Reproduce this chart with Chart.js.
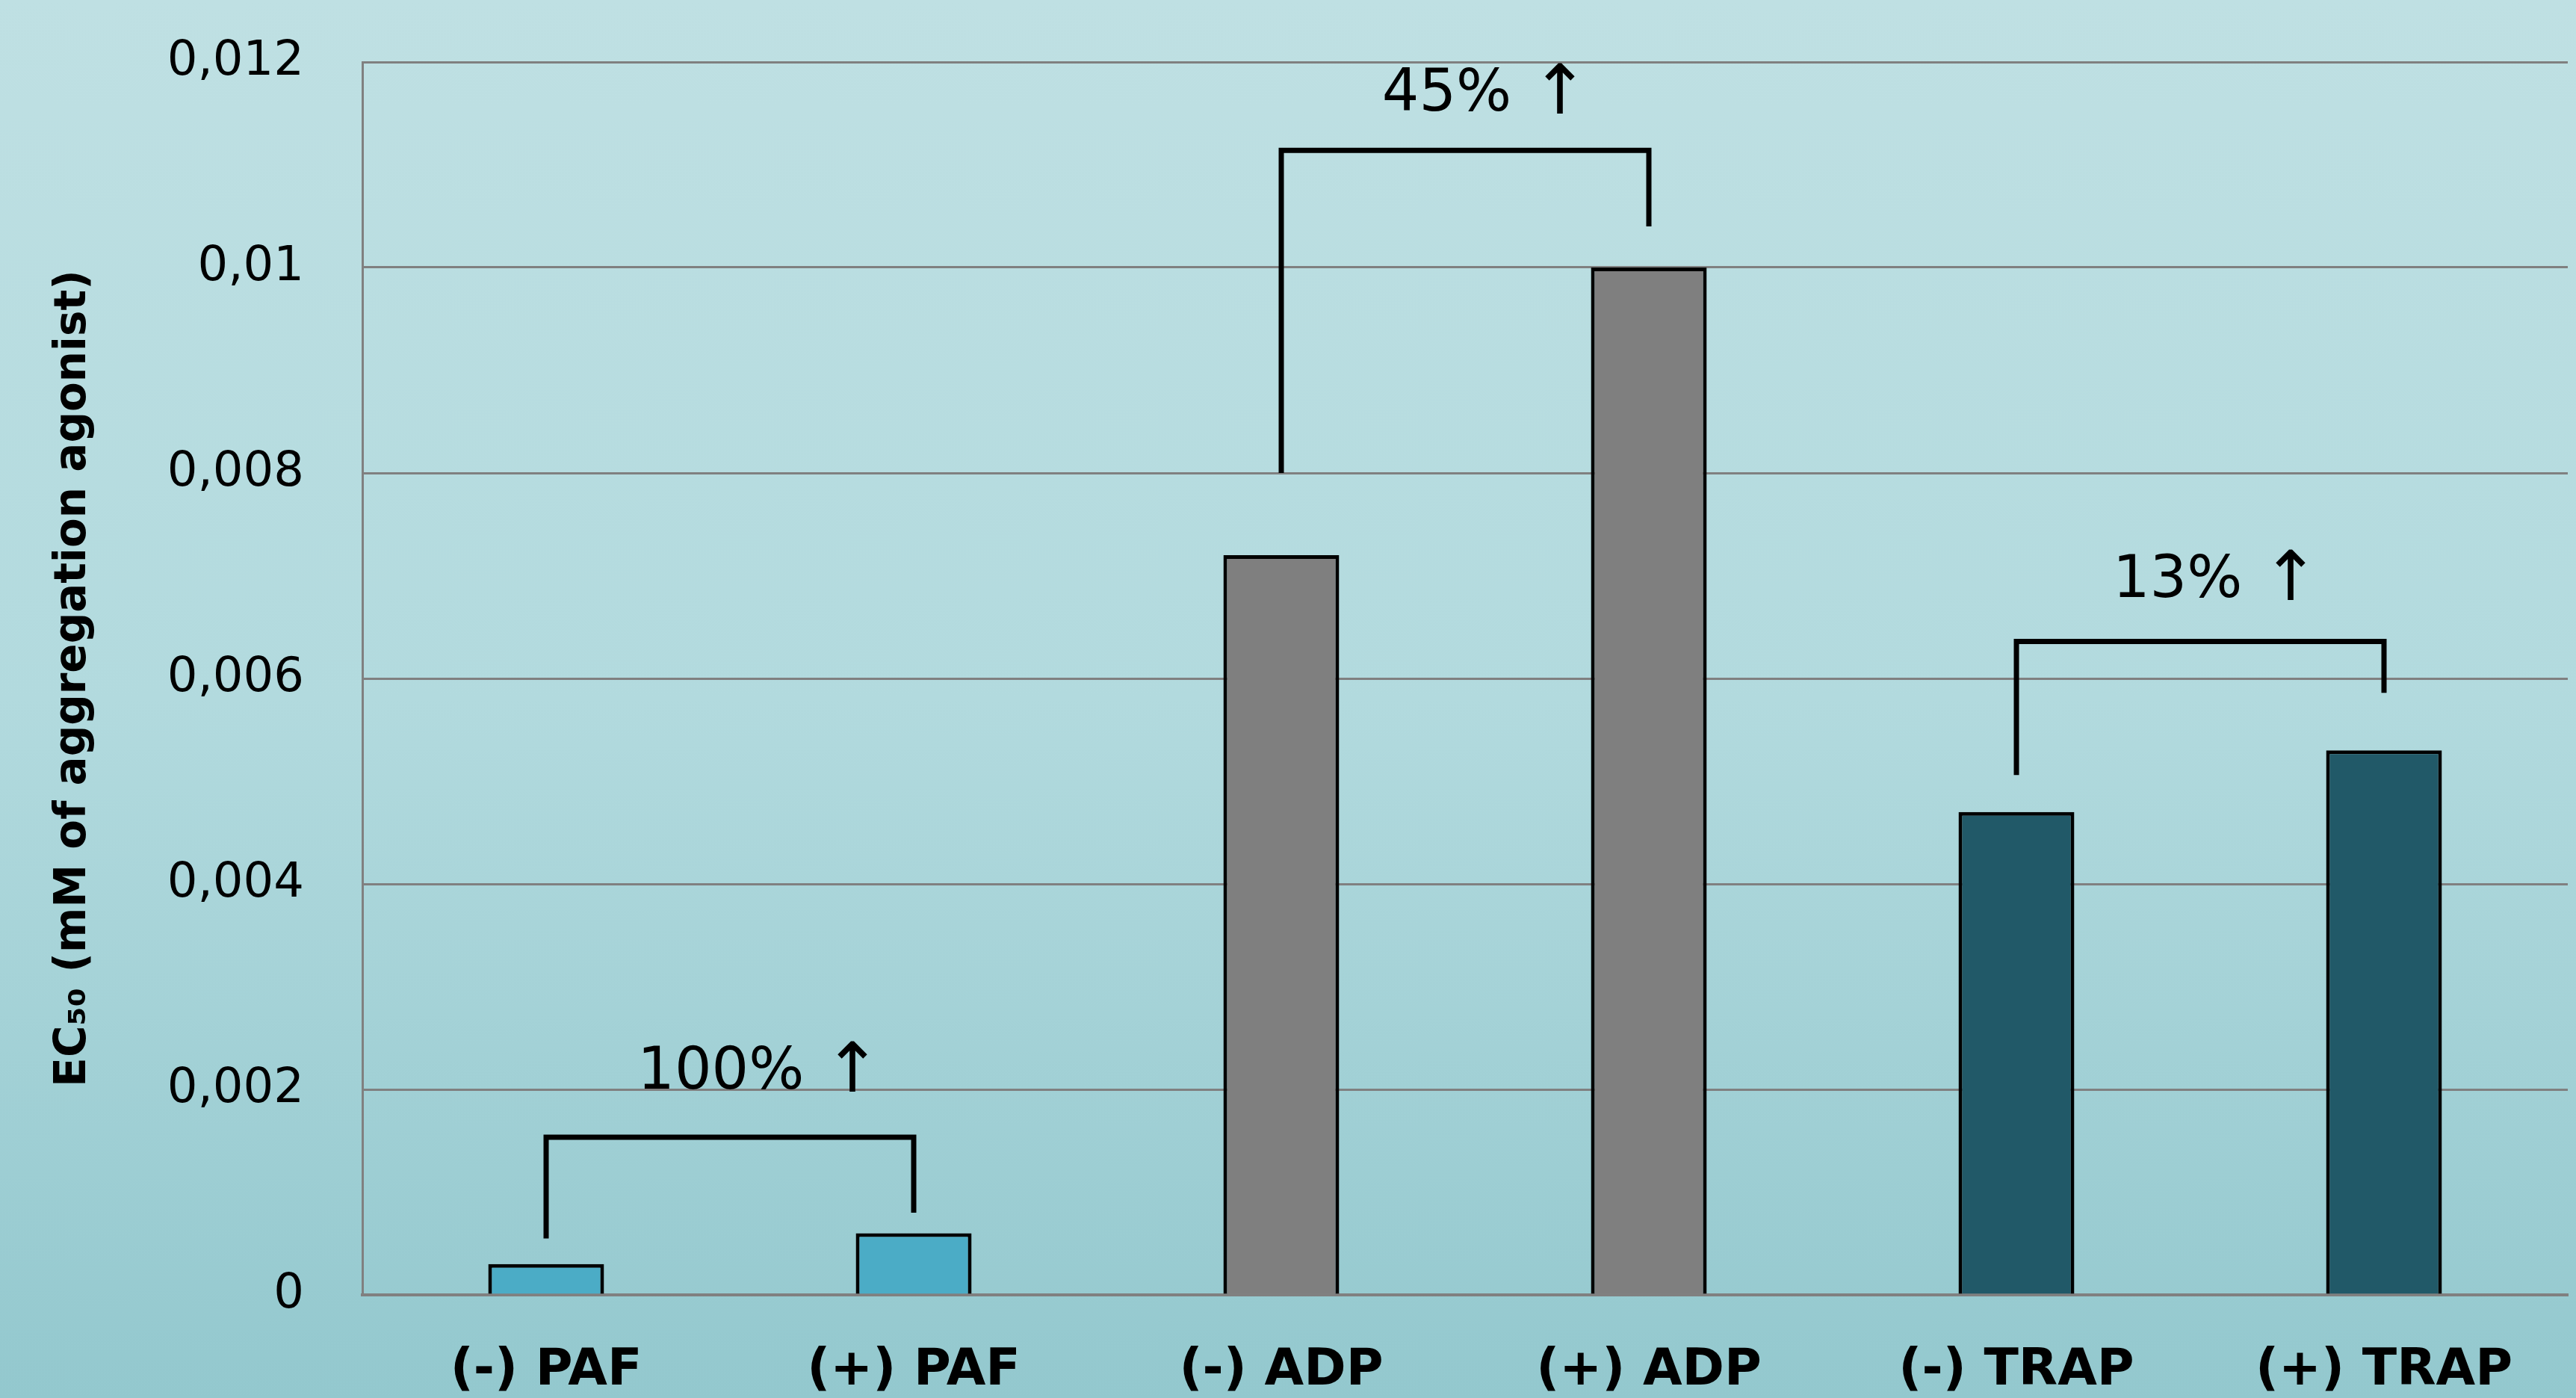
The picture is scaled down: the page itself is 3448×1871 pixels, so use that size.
<!DOCTYPE html>
<html>
<head>
<meta charset="utf-8">
<script src="https://cdn.jsdelivr.net/npm/chart.js@4/dist/chart.umd.min.js"></script>
<style>
  html, body { margin: 0; padding: 0; }
  body { width: 3448px; height: 1871px; background: linear-gradient(to bottom, #BFE0E3 0%, #B2DADE 50%, #93C8CE 100%); overflow: hidden; }
  #wrap { position: absolute; left: 0; top: 0; width: 3448px; height: 1871px; }
</style>
</head>
<body>
<div id="wrap"><canvas id="c" width="3448" height="1871"></canvas></div>
<script>
// ---- data ----
const categories = ['(-) PAF', '(+) PAF', '(-) ADP', '(+) ADP', '(-) TRAP', '(+) TRAP'];
const ec50Values = [0.0003, 0.0006, 0.0072, 0.0100, 0.0047, 0.0053];
const barColors = ['#4BACC6', '#4BACC6', '#7F7F7F', '#7F7F7F', '#215968', '#215968'];
const yTicks = [0, 0.002, 0.004, 0.006, 0.008, 0.010, 0.012];
const yTitle = 'EC\u2085\u2080 (mM of aggregation agonist)';
const changeLabels = ['100%', '45%', '13%'];
const changeArrow = '\u2191';
const bracketPairs = [[0, 1], [2, 3], [4, 5]];
// bracket geometry in data units: [top, left end, right end]
const bracketLevels = [[0.001535, 0.00055, 0.0008], [0.01114, 0.0080, 0.0104], [0.00636, 0.00506, 0.00586]];
// label anchors in data units: [category position of label centre, baseline value]
const labelAnchors = [[0.58, 0.00201], [2.555, 0.01153], [4.543, 0.00679]];

const bracketPlugin = {
  id: 'brackets',
  afterDatasetsDraw(chart) {
    const ctx = chart.ctx;
    const xs = chart.scales.x, ys = chart.scales.y;
    ctx.save();
    ctx.strokeStyle = '#000';
    ctx.lineWidth = 7;
    ctx.lineJoin = 'miter';
    ctx.lineCap = 'butt';
    bracketPairs.forEach((p, i) => {
      const xl = xs.getPixelForValue(p[0]);
      const xr = xs.getPixelForValue(p[1]);
      const [top, le, re] = bracketLevels[i];
      ctx.beginPath();
      ctx.moveTo(xl, ys.getPixelForValue(le));
      ctx.lineTo(xl, ys.getPixelForValue(top));
      ctx.lineTo(xr, ys.getPixelForValue(top));
      ctx.lineTo(xr, ys.getPixelForValue(re));
      ctx.stroke();
    });
    ctx.fillStyle = '#000';
    ctx.textBaseline = 'alphabetic';
    ctx.textAlign = 'left';
    const textFont = '78px "DejaVu Sans"';
    const arrowFont = '92px "DejaVu Sans"';
    changeLabels.forEach((t, i) => {
      const [cx, by] = labelAnchors[i];
      ctx.font = textFont;
      const tw = ctx.measureText(t).width;
      const gap = 26;
      ctx.font = arrowFont;
      const aw = ctx.measureText(changeArrow).width;
      const total = tw + gap + aw;
      const x0 = xs.getPixelForValue(cx) - total / 2;
      const y0 = ys.getPixelForValue(by);
      ctx.font = textFont;
      ctx.fillText(t, x0, y0);
      ctx.font = arrowFont;
      ctx.fillText(changeArrow, x0 + tw + gap, y0 + 4);
    });
    ctx.restore();
  }
};

new Chart(document.getElementById('c'), {
  type: 'bar',
  data: {
    labels: categories,
    datasets: [{
      data: ec50Values,
      backgroundColor: barColors,
      borderColor: '#000000',
      borderWidth: 5,
      barPercentage: 0.315,
      categoryPercentage: 1.0
    }]
  },
  options: {
    responsive: false,
    devicePixelRatio: 1,
    animation: false,
    layout: { padding: { top: 83, right: 11, bottom: 0, left: 0 } },
    plugins: { legend: { display: false }, tooltip: { enabled: false } },
    scales: {
      x: {
        grid: { display: false, drawTicks: false },
        border: { display: true, color: '#808080', width: 4 },
        ticks: {
          color: '#000',
          font: { family: 'DejaVu Sans', size: 68, weight: 'bold' },
          padding: 62,
          maxRotation: 0,
          autoSkip: false
        },
        afterFit(scale) { scale.height = 138; }
      },
      y: {
        min: 0,
        max: 0.012,
        afterBuildTicks(scale) { scale.ticks = yTicks.map(v => ({ value: v })); },
        grid: { color: '#808080', lineWidth: 3, drawTicks: true, tickLength: 76, tickColor: 'rgba(0,0,0,0)' },
        border: { display: true, color: '#808080', width: 3 },
        ticks: {
          color: '#000',
          font: { family: 'DejaVu Sans', size: 64 },
          padding: 2,
          callback: (v) => String(Number(v.toFixed(3))).replace('.', ',')
        },
        title: {
          display: true,
          text: yTitle,
          color: '#000',
          font: { family: 'DejaVu Sans', size: 58, weight: 'bold' },
          padding: { top: 64, bottom: 0 }
        },
        afterFit(scale) { scale.width = 485; }
      }
    }
  },
  plugins: [bracketPlugin]
});
</script>
</body>
</html>
